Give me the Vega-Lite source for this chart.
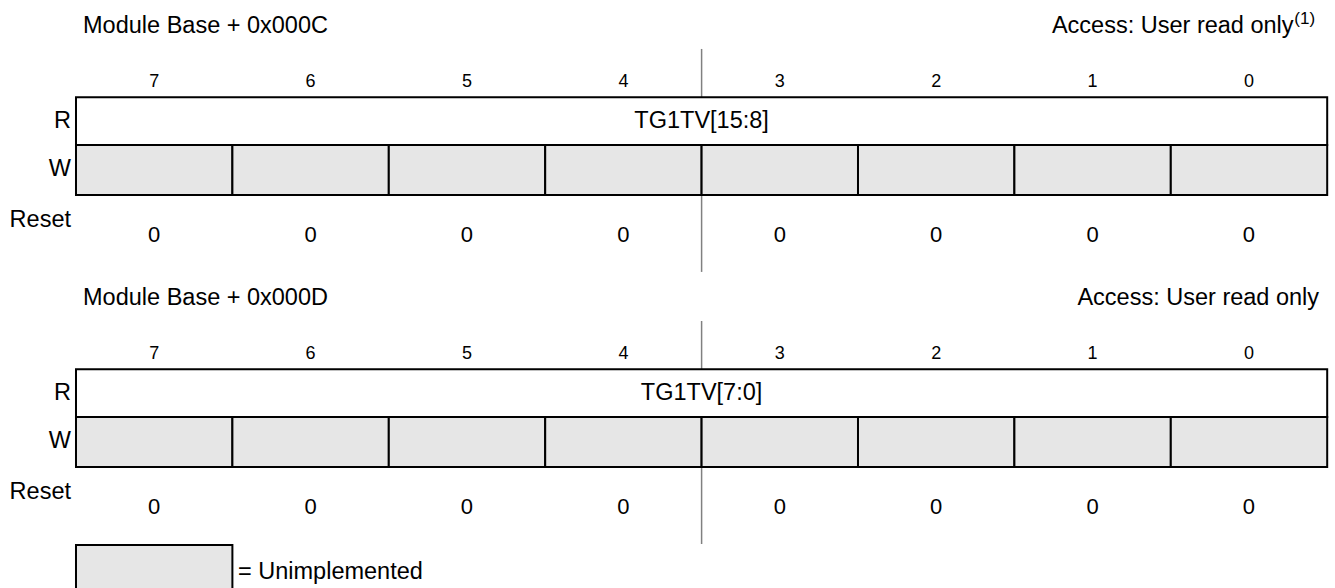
{
  "$schema": "https://vega.github.io/schema/vega-lite/v6.json",
  "width": 1335,
  "height": 588,
  "padding": 0,
  "autosize": {"type": "none"},
  "background": "white",
  "config": {"view": {"stroke": null}, "text": {"font": "Liberation Sans", "color": "black"}},
  "datasets": {
    "cells": [
      {"reg": 1, "row": "R", "x": 0, "x2": 8, "y": 4.054, "y2": 6.042, "fill": "R"},
      {"reg": 1, "row": "W", "x": 0, "x2": 1, "y": 6.042, "y2": 8.125, "fill": "W"},
      {"reg": 1, "row": "W", "x": 1, "x2": 2, "y": 6.042, "y2": 8.125, "fill": "W"},
      {"reg": 1, "row": "W", "x": 2, "x2": 3, "y": 6.042, "y2": 8.125, "fill": "W"},
      {"reg": 1, "row": "W", "x": 3, "x2": 4, "y": 6.042, "y2": 8.125, "fill": "W"},
      {"reg": 1, "row": "W", "x": 4, "x2": 5, "y": 6.042, "y2": 8.125, "fill": "W"},
      {"reg": 1, "row": "W", "x": 5, "x2": 6, "y": 6.042, "y2": 8.125, "fill": "W"},
      {"reg": 1, "row": "W", "x": 6, "x2": 7, "y": 6.042, "y2": 8.125, "fill": "W"},
      {"reg": 1, "row": "W", "x": 7, "x2": 8, "y": 6.042, "y2": 8.125, "fill": "W"},
      {"reg": 2, "row": "R", "x": 0, "x2": 8, "y": 15.387, "y2": 17.375, "fill": "R"},
      {"reg": 2, "row": "W", "x": 0, "x2": 1, "y": 17.375, "y2": 19.458, "fill": "W"},
      {"reg": 2, "row": "W", "x": 1, "x2": 2, "y": 17.375, "y2": 19.458, "fill": "W"},
      {"reg": 2, "row": "W", "x": 2, "x2": 3, "y": 17.375, "y2": 19.458, "fill": "W"},
      {"reg": 2, "row": "W", "x": 3, "x2": 4, "y": 17.375, "y2": 19.458, "fill": "W"},
      {"reg": 2, "row": "W", "x": 4, "x2": 5, "y": 17.375, "y2": 19.458, "fill": "W"},
      {"reg": 2, "row": "W", "x": 5, "x2": 6, "y": 17.375, "y2": 19.458, "fill": "W"},
      {"reg": 2, "row": "W", "x": 6, "x2": 7, "y": 17.375, "y2": 19.458, "fill": "W"},
      {"reg": 2, "row": "W", "x": 7, "x2": 8, "y": 17.375, "y2": 19.458, "fill": "W"},
      {"reg": 0, "row": "legend", "x": 0, "x2": 1, "y": 22.71, "y2": 25.2, "fill": "W"}
    ],
    "dividers": [
      {"x": 4, "y": 2.04, "y2": 11.33},
      {"x": 4, "y": 13.375, "y2": 22.667}
    ],
    "bits": [
      {"label": "7", "x": 0.5, "y": 3.417}, {"label": "6", "x": 1.5, "y": 3.417},
      {"label": "5", "x": 2.5, "y": 3.417}, {"label": "4", "x": 3.5, "y": 3.417},
      {"label": "3", "x": 4.5, "y": 3.417}, {"label": "2", "x": 5.5, "y": 3.417},
      {"label": "1", "x": 6.5, "y": 3.417}, {"label": "0", "x": 7.5, "y": 3.417},
      {"label": "7", "x": 0.5, "y": 14.75}, {"label": "6", "x": 1.5, "y": 14.75},
      {"label": "5", "x": 2.5, "y": 14.75}, {"label": "4", "x": 3.5, "y": 14.75},
      {"label": "3", "x": 4.5, "y": 14.75}, {"label": "2", "x": 5.5, "y": 14.75},
      {"label": "1", "x": 6.5, "y": 14.75}, {"label": "0", "x": 7.5, "y": 14.75}
    ],
    "resets": [
      {"label": "0", "x": 0.5, "y": 9.79}, {"label": "0", "x": 1.5, "y": 9.79},
      {"label": "0", "x": 2.5, "y": 9.79}, {"label": "0", "x": 3.5, "y": 9.79},
      {"label": "0", "x": 4.5, "y": 9.79}, {"label": "0", "x": 5.5, "y": 9.79},
      {"label": "0", "x": 6.5, "y": 9.79}, {"label": "0", "x": 7.5, "y": 9.79},
      {"label": "0", "x": 0.5, "y": 21.125}, {"label": "0", "x": 1.5, "y": 21.125},
      {"label": "0", "x": 2.5, "y": 21.125}, {"label": "0", "x": 3.5, "y": 21.125},
      {"label": "0", "x": 4.5, "y": 21.125}, {"label": "0", "x": 5.5, "y": 21.125},
      {"label": "0", "x": 6.5, "y": 21.125}, {"label": "0", "x": 7.5, "y": 21.125}
    ],
    "fields": [
      {"label": "TG1TV[15:8]", "x": 4, "y": 5.06},
      {"label": "TG1TV[7:0]", "x": 4, "y": 16.39}
    ],
    "rowLabels": [
      {"label": "R", "x": -0.032, "y": 5.06},
      {"label": "W", "x": -0.032, "y": 7.04},
      {"label": "Reset", "x": -0.032, "y": 9.167},
      {"label": "R", "x": -0.032, "y": 16.39},
      {"label": "W", "x": -0.032, "y": 18.37},
      {"label": "Reset", "x": -0.032, "y": 20.5}
    ],
    "leftTitles": [
      {"label": "Module Base + 0x000C", "x": 0.045, "y": 1.08},
      {"label": "Module Base + 0x000D", "x": 0.045, "y": 12.41},
      {"label": "= Unimplemented", "x": 1.036, "y": 23.83}
    ],
    "rightTitles": [
      {"label": "Access: User read only", "x": 7.785, "y": 1.08},
      {"label": "Access: User read only", "x": 7.948, "y": 12.41}
    ],
    "notes": [
      {"label": "(1)", "x": 7.79, "y": 0.78}
    ]
  },
  "encoding": {
    "x": {"field": "x", "type": "quantitative", "axis": null, "scale": {"domain": [-0.4859, 8.0499], "nice": false, "zero": false}},
    "y": {"field": "y", "type": "quantitative", "axis": null, "scale": {"domain": [0, 24.5], "nice": false, "zero": false, "reverse": true}}
  },
  "layer": [
    {
      "data": {"name": "dividers"},
      "mark": {"type": "rule", "stroke": "#808080", "strokeWidth": 1.5},
      "encoding": {"y2": {"field": "y2"}}
    },
    {
      "data": {"name": "cells"},
      "mark": {"type": "rect", "stroke": "black", "strokeWidth": 2, "clip": true},
      "encoding": {
        "x2": {"field": "x2"},
        "y2": {"field": "y2"},
        "fill": {"field": "fill", "type": "nominal", "legend": null, "scale": {"domain": ["R", "W"], "range": ["#ffffff", "#e6e6e6"]}}
      }
    },
    {
      "data": {"name": "bits"},
      "mark": {"type": "text", "fontSize": 18, "align": "center", "baseline": "middle"},
      "encoding": {"text": {"field": "label"}}
    },
    {
      "data": {"name": "resets"},
      "mark": {"type": "text", "fontSize": 22, "align": "center", "baseline": "middle"},
      "encoding": {"text": {"field": "label"}}
    },
    {
      "data": {"name": "fields"},
      "mark": {"type": "text", "fontSize": 23.5, "align": "center", "baseline": "middle"},
      "encoding": {"text": {"field": "label"}}
    },
    {
      "data": {"name": "rowLabels"},
      "mark": {"type": "text", "fontSize": 23.5, "align": "right", "baseline": "middle"},
      "encoding": {"text": {"field": "label"}}
    },
    {
      "data": {"name": "leftTitles"},
      "mark": {"type": "text", "fontSize": 23.5, "align": "left", "baseline": "middle"},
      "encoding": {"text": {"field": "label"}}
    },
    {
      "data": {"name": "rightTitles"},
      "mark": {"type": "text", "fontSize": 23.5, "align": "right", "baseline": "middle"},
      "encoding": {"text": {"field": "label"}}
    },
    {
      "data": {"name": "notes"},
      "mark": {"type": "text", "fontSize": 17, "align": "left", "baseline": "middle"},
      "encoding": {"text": {"field": "label"}}
    }
  ]
}
